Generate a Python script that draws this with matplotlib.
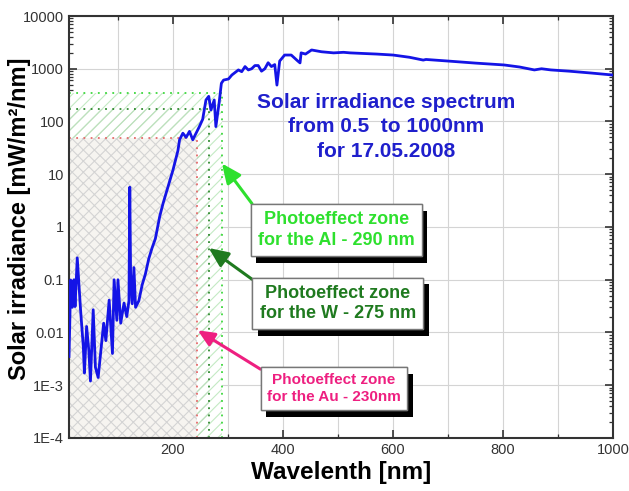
import numpy as np
import matplotlib.pyplot as plt
import matplotlib.patheffects as pe
from matplotlib.patches import Rectangle
from matplotlib.ticker import FixedLocator, MultipleLocator, LogLocator, NullFormatter


# Spectrum

wavelength = [
    11, 12.4, 14, 17, 20, 22, 26, 32, 37, 39, 43, 47, 50, 55, 59, 64, 69,
    74, 78, 84, 90, 93, 98, 100, 105, 111, 116, 120, 121.5, 123, 126, 129,
    132, 138, 144, 150, 156, 162, 168, 176, 182, 191, 200, 209, 212, 218,
    224, 230, 236, 242, 248, 254, 260, 265, 269, 275, 278, 284, 288, 292,
    301, 307, 313, 319, 325, 331, 337, 343, 349, 355, 361, 367, 373, 379,
    385, 389, 394, 403, 415, 427, 431, 433, 441, 452, 470, 492, 510, 522,
    545, 570, 600, 630, 655, 660, 700, 750, 802, 830, 857, 870, 887, 920,
    960, 1000
]

irradiance = [
    0.0035, 0.015, 0.099, 0.03, 0.1, 0.031, 0.26, 0.027, 0.0054, 0.0017,
    0.013, 0.0046, 0.0012, 0.027, 0.0022, 0.0014, 0.0046, 0.015, 0.007,
    0.041, 0.004, 0.1, 0.017, 0.1, 0.015, 0.036, 0.02, 0.04, 5.7, 0.13,
    0.035, 0.17, 0.03, 0.04, 0.08, 0.13, 0.25, 0.4, 0.6, 1.6, 2.8, 5.8,
    12, 28, 45, 60, 50, 65, 45, 60, 80, 110, 256, 300, 165, 256, 80, 230,
    530, 610, 640, 760, 850, 950, 880, 1100, 950, 1000, 1150, 1150, 900,
    1000, 1300, 1100, 1200, 490, 1400, 1820, 1820, 1400, 1290, 2000, 1900,
    2270, 2100, 2000, 2050, 2000, 1950, 1900, 1820, 1650, 1460, 1500, 1400,
    1280, 1180, 1080, 950, 1000, 950, 900, 830, 760
]

# Photoeffect zones: (cut-off wavelength, irradiance level)
zone_au = (243, 48)
zone_w = (265, 172)
zone_al = (289, 352)

y_ticks = [1e-4, 1e-3, 1e-2, 1e-1, 1, 10, 100, 1000, 10000]
y_tick_labels = ["1E-4", "1E-3", "0.01", "0.1", "1", "10", "100", "1000", "10000"]

x_min = 11
x_max = 1000
y_min = 1e-4
y_max = 1e4


plt.rcParams["font.family"] = ["Liberation Sans", "DejaVu Sans"]
plt.rcParams["hatch.linewidth"] = 0.8

fig = plt.figure(figsize=(6.29, 4.91), dpi=100)
ax = fig.add_axes([0.1097, 0.108, 0.8649, 0.8594])

ax.set_yscale("log")
ax.set_xlim(x_min, x_max)
ax.set_ylim(y_min, y_max)


# Hatched zones (green first, red crosshatch on top)

ax.add_patch(Rectangle(
    (x_min, y_min), zone_al[0] - x_min, zone_al[1] - y_min,
    facecolor="white", edgecolor="#c4eac4", hatch="///",
    linewidth=0, zorder=1
))
ax.add_patch(Rectangle(
    (x_min, y_min), zone_w[0] - x_min, zone_w[1] - y_min,
    facecolor="none", edgecolor="#bddfbd", hatch="///",
    linewidth=0, zorder=1
))
ax.add_patch(Rectangle(
    (x_min, y_min), zone_au[0] - x_min, zone_au[1] - y_min,
    facecolor="#f6f4f0", edgecolor="#d4d4d4", hatch="xxx",
    linewidth=0, zorder=1.5
))


# Dotted zone borders

for (edge, level), color in [
    (zone_au, "#e46a6a"),
    (zone_w, "#2f8a2f"),
    (zone_al, "#3ed83e"),
]:
    ax.plot([x_min, edge], [level, level], linestyle=(0, (1, 3)),
            color=color, linewidth=1.3, zorder=2)
    ax.plot([edge, edge], [y_min, level], linestyle=(0, (1, 3)),
            color=color, linewidth=1.3, zorder=2)


# Spectrum

ax.plot(wavelength, irradiance, color="#1414e6", linewidth=2.0, zorder=3)


# Grid and ticks

ax.xaxis.set_major_locator(MultipleLocator(200))
ax.xaxis.set_minor_locator(MultipleLocator(100))
ax.yaxis.set_major_locator(FixedLocator(y_ticks))
ax.yaxis.set_minor_locator(LogLocator(base=10, subs=np.arange(2, 10)))
ax.yaxis.set_minor_formatter(NullFormatter())
ax.set_yticklabels(y_tick_labels)

ax.grid(True, which="major", color="#d4d4d4", linewidth=0.8, zorder=0)
ax.grid(True, which="minor", axis="x", color="#d4d4d4", linewidth=0.8, zorder=0)
ax.set_axisbelow(True)

ax.tick_params(which="both", direction="in", top=True, right=True,
               color="#333333", labelsize=10.5, labelcolor="#333333")
ax.tick_params(which="major", length=6, width=1.2)
ax.tick_params(which="minor", length=3, width=0.9)

for spine in ax.spines.values():
    spine.set_linewidth(1.5)
    spine.set_color("#333333")

ax.set_xlabel("Wavelenth [nm]", fontsize=17.5, fontweight="bold", labelpad=3)
ax.set_ylabel("Solar irradiance [mW/m\u00b2/nm]", fontsize=17,
              fontweight="bold")
ax.yaxis.set_label_coords(-0.07, 0.52)


# Title text inside the plot

ax.text(
    0.583, 0.737,
    "Solar irradiance spectrum\nfrom 0.5  to 1000nm\nfor 17.05.2008",
    transform=ax.transAxes, ha="center", va="center",
    fontsize=15, fontweight="bold", color="#1f1fcc", linespacing=1.35,
    zorder=4
)


# Annotation boxes with drop shadow

annotations = [
    ("Photoeffect zone\nfor the Al - 290 nm", "#2ee02e", (289, 16), (0.491, 0.493), 13),
    ("Photoeffect zone\nfor the W - 275 nm", "#1f7a1f", (265, 0.40), (0.494, 0.319), 13),
    ("Photoeffect zone\nfor the Au - 230nm", "#ee1f80", (245, 0.011), (0.487, 0.117), 11),
]

for label, color, tip, box_pos, size in annotations:
    note = ax.annotate(
        label,
        xy=tip, xycoords="data",
        xytext=box_pos, textcoords="axes fraction",
        ha="center", va="center",
        fontsize=size, fontweight="bold", color=color, linespacing=1.25,
        bbox=dict(boxstyle="square,pad=0.4", facecolor="white",
                  edgecolor="#777777", linewidth=1.0),
        arrowprops=dict(arrowstyle="-|>,head_length=0.9,head_width=0.4",
                        color=color, linewidth=2.2, relpos=(0.0, 1.0),
                        shrinkA=0, shrinkB=0),
        zorder=5
    )
    note.get_bbox_patch().set_path_effects([
        pe.withSimplePatchShadow(offset=(4, -5), shadow_rgbFace="black", alpha=1.0),
        pe.Normal()
    ])

fig.savefig("out.png", dpi=100)
